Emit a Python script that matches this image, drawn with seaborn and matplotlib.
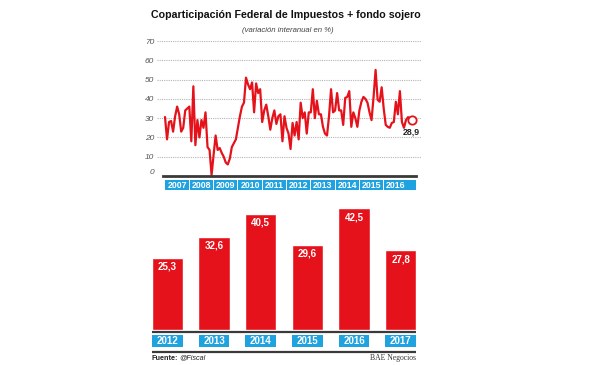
import numpy as np
import pandas as pd
import matplotlib
matplotlib.use("Agg")
import matplotlib.pyplot as plt
import matplotlib.transforms as mtransforms
from matplotlib.patches import Rectangle
import seaborn as sns

# monthly series, Jan 2007 -> Mar 2017 (variacion interanual, %)
monthly_vals = [
    30.6, 19, 28, 28.5, 23, 31, 36, 32, 23, 25, 34, 35,
    36, 18, 46.5, 16, 29, 20, 29, 25, 33, 15, 13.5, 0.5,
    11, 21, 13.5, 14.5, 12, 10, 7, 6, 9, 15, 17, 19,
    25, 31, 36, 38, 51, 47.5, 45, 48.5, 33, 48, 43, 45,
    28, 34, 37, 31, 24, 30, 34, 27, 31, 32, 18, 31,
    25, 22, 14, 27.5, 21, 28, 19, 38, 30, 33, 22, 33,
    33, 45, 30, 39, 32, 32, 25.5, 22, 21, 31, 45, 33,
    34, 43, 34, 34, 26.5, 40.5, 41, 44, 25.5, 33, 30, 25.5,
    34, 38.5, 41, 40, 38, 33, 29, 41, 55, 39.5, 38.5, 46,
    35, 26.5, 25.5, 25, 27.5, 28, 38.5, 32, 44, 28, 25, 29,
    30.5, 30, 28.9,
]
line_years = list(range(2007, 2017))
y_ticks = [0, 10, 20, 30, 40, 50, 60, 70]
last_label = "28,9"

bar_years = ["2012", "2013", "2014", "2015", "2016", "2017"]
bar_vals = [25.3, 32.6, 40.5, 29.6, 42.5, 27.8]

RED = "#e5121b"
BLUE = "#1fa3e0"
GRAY = "#555555"

sns.set_theme(style="white")
plt.rcParams["font.family"] = ["Liberation Sans", "DejaVu Sans"]

W, H = 600, 365
fig = plt.figure(figsize=(6, 3.65), dpi=100)
fig.patch.set_facecolor("white")


def box(l, t, r, b):
    return [l / W, 1 - b / H, (r - l) / W, (b - t) / H]


# ---------- title ----------
fig.text(286 / W, 1 - 15 / H, "Coparticipación Federal de Impuestos + fondo sojero",
         ha="center", va="center", fontsize=7.7, fontweight="heavy",
         color="#111111")
fig.text(288 / W, 1 - 30 / H, "(variación interanual en %)", ha="center",
         va="center", fontsize=5.6, style="italic", color="#444444")

# ---------- line chart ----------
df = pd.DataFrame({
    "x": 2007 + np.arange(len(monthly_vals)) / 12.0,
    "v": monthly_vals,
})
px_year = 24.3
ax1 = fig.add_axes(box(157, 41, 421, 176))
sns.lineplot(data=df, x="x", y="v", ax=ax1, color=RED, lw=1.6)
ax1.plot(df["x"].iloc[-1], df["v"].iloc[-1], "o", ms=6, mfc="white",
         mec=RED, mew=1.3, zorder=5)
ax1.text(df["x"].iloc[-1] - 0.05, df["v"].iloc[-1] - 3.5, last_label,
         ha="center", va="top", fontsize=6.3, fontweight="bold", color="#222222")

ax1.set_xlim(2007 - 8 / px_year, 2007 + (421 - 165) / px_year)
ax1.set_ylim(0, 70)
ax1.set_yticks(y_ticks)
ax1.set_yticklabels([str(t) for t in y_ticks], style="italic", fontsize=6,
                    color=GRAY)
ax1.tick_params(axis="y", length=0, pad=2)
ax1.set_xticks([])
ax1.set_xlabel("")
ax1.set_ylabel("")
ax1.grid(axis="y", color="#b5b5b5", lw=0.8, ls=(0, (1, 1)))
ax1.set_axisbelow(True)
for s in ["top", "right", "left"]:
    ax1.spines[s].set_visible(False)
ax1.spines["bottom"].set_color("#3a3a3a")
ax1.spines["bottom"].set_linewidth(2)
ax1.spines["bottom"].set_bounds(2006.93, 2017.33)
for lab in ax1.get_yticklabels():
    if lab.get_text() == "0":
        lab.set_va("bottom")

tr1 = mtransforms.blended_transform_factory(ax1.transData, ax1.transAxes)
hpx1 = 176 - 41
for yr in line_years:
    ax1.add_patch(Rectangle((yr + 0.02, -14 / hpx1), 0.96, 10 / hpx1,
                            transform=tr1, color=BLUE, clip_on=False, lw=0))
    ax1.text(yr + 0.5, -9 / hpx1, str(yr), transform=tr1, ha="center",
             va="center", color="white", fontsize=6.3, fontweight="bold")
ax1.add_patch(Rectangle((2017.02, -14 / hpx1), 0.31, 10 / hpx1,
                        transform=tr1, color=BLUE, clip_on=False, lw=0))

# ---------- bar chart ----------
ax2 = fig.add_axes(box(144, 184, 424, 330))
sns.barplot(x=bar_years, y=bar_vals, ax=ax2, color=RED, saturation=1,
            width=0.665)
ax2.set_ylim(0, 51)
ax2.set_xlim(-0.5, len(bar_years) - 0.5)
ax2.axis("off")
for i, v in enumerate(bar_vals):
    ax2.text(i, v - 1.3, f"{v:.1f}".replace(".", ","), ha="center",
             va="top", color="white", fontsize=7, fontweight="bold")

tr2 = mtransforms.blended_transform_factory(ax2.transData, ax2.transAxes)
hpx2 = 330 - 184
x_lo, x_hi = -0.33, len(bar_years) - 0.67
for yy in (-2, -22):
    ax2.plot([x_lo, x_hi], [yy / hpx2, yy / hpx2], transform=tr2,
             color="#3a3a3a", lw=1.6, clip_on=False, solid_capstyle="butt")
for i, yr in enumerate(bar_years):
    ax2.add_patch(Rectangle((i - 0.33, -17 / hpx2), 0.66, 12 / hpx2,
                            transform=tr2, color=BLUE, clip_on=False, lw=0))
    ax2.text(i, -11 / hpx2, yr, transform=tr2, ha="center", va="center",
             color="white", fontsize=7, fontweight="bold")

ax2.text(x_lo, -28 / hpx2, "Fuente:", transform=tr2, ha="left", va="center",
         fontsize=5.2, fontweight="bold", color="#222222")
ax2.text(x_lo + 0.58, -28 / hpx2, "@Fiscal", transform=tr2, ha="left",
         va="center", fontsize=5.2, style="italic", color="#222222")
ax2.text(x_hi, -28 / hpx2, "BAE Negocios", transform=tr2,
         ha="right", va="center", fontsize=5.5, family="Liberation Serif",
         color="#333333")

fig.savefig("out.png", dpi=100, facecolor="white")
